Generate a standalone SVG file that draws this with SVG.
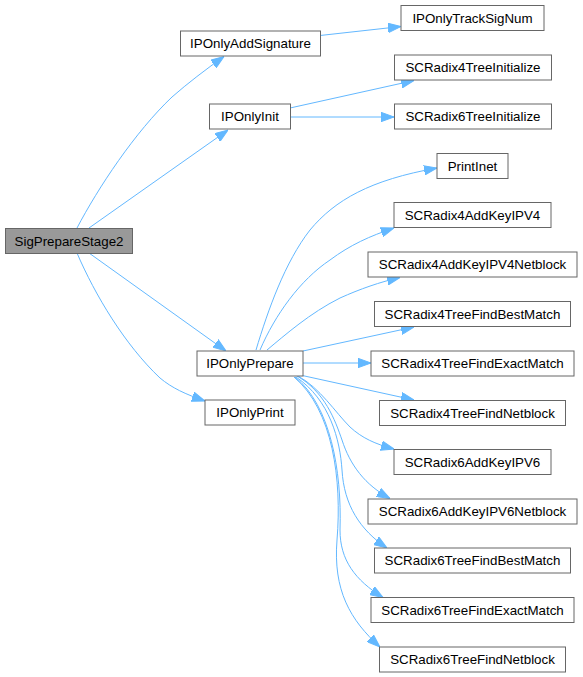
<svg xmlns="http://www.w3.org/2000/svg" width="583" height="677" viewBox="0 0 583 677">
<style>
.n rect{fill:#ffffff;stroke:#666666;stroke-width:1}
.n.root rect{fill:#999999}
.n text{font-family:"Liberation Sans",Arial,sans-serif;font-size:13.33px;fill:#000000;text-anchor:middle}
.e path{fill:none;stroke:#63b8ff;stroke-width:1;marker-end:url(#ah)}
</style>
<defs>
<marker id="ah" markerUnits="userSpaceOnUse" markerWidth="13" markerHeight="10" viewBox="0 0 13 9.4" refX="13" refY="4.7" orient="auto">
<path d="M0,0 L13,4.7 L0,9.4 z" fill="#63b8ff" stroke="#63b8ff" stroke-width="1"/>
</marker>
</defs>
<rect width="583" height="677" fill="#ffffff"/>
<g id="edges" class="e">
<path d="M77,228 C98,188 135,132 172,97 C188,83 205,70 224,56.5"/>
<path d="M89,228 L228,130"/>
<path d="M89,253 L226,351"/>
<path d="M77,253 C95,295 125,345 160,378 C172,388 185,394 205,401"/>
<path d="M320,35.5 L401,26.5"/>
<path d="M290,108 L414,80.5"/>
<path d="M290,117 L394,117"/>
<path d="M256,350 C268,310 285,262 310,230 C335,200 370,180 437,168"/>
<path d="M260,350 C275,315 300,280 330,260 C350,245 370,236 394,228"/>
<path d="M267,350 C285,335 310,313 340,298 C360,289 380,282 400,277.5"/>
<path d="M303,351 L414,327"/>
<path d="M303,363 L371,363"/>
<path d="M300,375 L414,400"/>
<path d="M298,376 C320,388 335,412 350,427 C362,438 375,444 394,449"/>
<path d="M297,376 C325,392 335,420 342,440 C350,465 365,485 390,498.5"/>
<path d="M296,377 C330,400 340,440 342,470 C344,505 360,530 387,548"/>
<path d="M295,377 C330,405 342,470 340,530 C340,560 355,580 383,597.5"/>
<path d="M294,377 C333,410 342,480 337,540 C333,590 350,620 380,647"/>
</g>
<g id="SigPrepareStage2" class="n root"><rect x="5.5" y="228.5" width="127" height="25"/><text x="69" y="245.5">SigPrepareStage2</text></g>
<g id="IPOnlyAddSignature" class="n"><rect x="180.5" y="31" width="140" height="25"/><text x="250.5" y="48">IPOnlyAddSignature</text></g>
<g id="IPOnlyTrackSigNum" class="n"><rect x="401" y="5.5" width="143" height="25"/><text x="472.5" y="22.5">IPOnlyTrackSigNum</text></g>
<g id="IPOnlyInit" class="n"><rect x="209.5" y="104" width="81" height="25"/><text x="250" y="121">IPOnlyInit</text></g>
<g id="SCRadix4TreeInitialize" class="n"><rect x="394.5" y="55" width="157" height="25"/><text x="473" y="72">SCRadix4TreeInitialize</text></g>
<g id="SCRadix6TreeInitialize" class="n"><rect x="394.5" y="104" width="157" height="25"/><text x="473" y="121">SCRadix6TreeInitialize</text></g>
<g id="PrintInet" class="n"><rect x="437" y="153.5" width="71" height="25"/><text x="472.5" y="170.5">PrintInet</text></g>
<g id="SCRadix4AddKeyIPV4" class="n"><rect x="394" y="202.5" width="157" height="25"/><text x="472.5" y="219.5">SCRadix4AddKeyIPV4</text></g>
<g id="SCRadix4AddKeyIPV4Netblock" class="n"><rect x="368" y="252" width="209" height="25"/><text x="472.5" y="269">SCRadix4AddKeyIPV4Netblock</text></g>
<g id="SCRadix4TreeFindBestMatch" class="n"><rect x="374.5" y="301.5" width="196" height="25"/><text x="472.5" y="318.5">SCRadix4TreeFindBestMatch</text></g>
<g id="SCRadix4TreeFindExactMatch" class="n"><rect x="371" y="351" width="203" height="25"/><text x="472.5" y="368">SCRadix4TreeFindExactMatch</text></g>
<g id="IPOnlyPrepare" class="n"><rect x="197" y="351" width="106" height="25"/><text x="250" y="368">IPOnlyPrepare</text></g>
<g id="SCRadix4TreeFindNetblock" class="n"><rect x="379.5" y="400.5" width="186" height="25"/><text x="472.5" y="417.5">SCRadix4TreeFindNetblock</text></g>
<g id="IPOnlyPrint" class="n"><rect x="205" y="400" width="90" height="25"/><text x="250" y="417">IPOnlyPrint</text></g>
<g id="SCRadix6AddKeyIPV6" class="n"><rect x="394" y="449.5" width="157" height="25"/><text x="472.5" y="466.5">SCRadix6AddKeyIPV6</text></g>
<g id="SCRadix6AddKeyIPV6Netblock" class="n"><rect x="368" y="499" width="209" height="25"/><text x="472.5" y="516">SCRadix6AddKeyIPV6Netblock</text></g>
<g id="SCRadix6TreeFindBestMatch" class="n"><rect x="374.5" y="548" width="196" height="25"/><text x="472.5" y="565">SCRadix6TreeFindBestMatch</text></g>
<g id="SCRadix6TreeFindExactMatch" class="n"><rect x="371" y="597.5" width="203" height="25"/><text x="472.5" y="614.5">SCRadix6TreeFindExactMatch</text></g>
<g id="SCRadix6TreeFindNetblock" class="n"><rect x="379.5" y="647" width="186" height="25"/><text x="472.5" y="664">SCRadix6TreeFindNetblock</text></g>
</svg>
